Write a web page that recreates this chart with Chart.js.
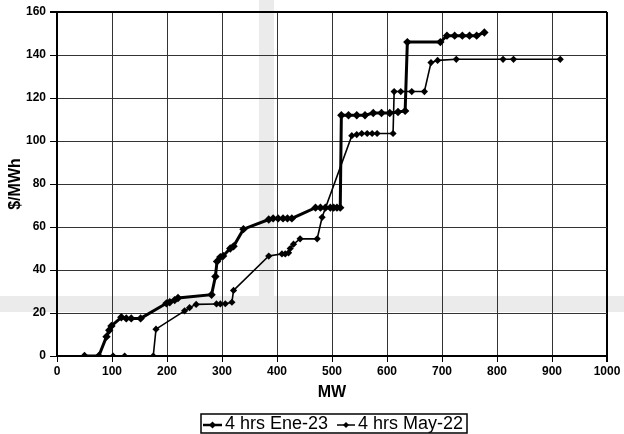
<!DOCTYPE html>
<html><head><meta charset="utf-8">
<script src="https://cdn.jsdelivr.net/npm/chart.js@4"></script>
<style>html,body{margin:0;padding:0;background:#fff;}</style>
</head><body>
<canvas id="c" width="624" height="434"></canvas>
<script>
const ene23X = [50, 76, 90, 95, 99, 117, 126, 135, 152, 199, 205, 214, 220, 281, 288, 291, 297, 302, 315, 321, 339, 385, 393, 402, 411, 419, 427, 470, 479, 488, 497, 503, 509, 515, 517, 530, 545, 560, 575, 590, 605, 620, 633, 637, 697, 709, 723, 737, 750, 763, 777];
const ene23Y = [0, 0, 9, 12, 14, 18, 17.5, 17.5, 17.5, 24.5, 25, 26, 27, 28.5, 37, 44, 46, 46.5, 50, 51, 59, 63.5, 64, 64, 64, 64, 64, 69, 69, 69, 69, 69, 69, 69, 112, 112, 112, 112, 113, 113, 113, 113.5, 114, 146, 146, 149, 149, 149, 149, 149, 150.5];
const may22X = [102, 123, 175, 180, 232, 241, 253, 290, 297, 306, 318, 321, 385, 409, 415, 421, 424, 430, 442, 473, 482, 536, 545, 554, 564, 573, 582, 611, 613, 625, 645, 668, 680, 692, 726, 811, 830, 915];
const may22Y = [0, 0, 0, 12.5, 21, 22.5, 24, 24.2, 24.2, 24.3, 25, 30.5, 46.5, 47.5, 47.5, 48, 50, 52, 54.5, 54.5, 64.5, 102.5, 103, 103.5, 103.5, 103.5, 103.5, 103.5, 123, 123, 123, 123, 136.5, 137.5, 138, 138, 138, 138];
const seriesNames = ['4 hrs Ene-23', '4 hrs May-22'];
const xTicks = [0, 100, 200, 300, 400, 500, 600, 700, 800, 900, 1000];
const yTicks = [0, 20, 40, 60, 80, 100, 120, 140, 160];

const FONT = "'Liberation Sans', Arial, sans-serif";
const pts = (xs, ys) => xs.map((x, i) => ({x, y: ys[i]}));

const watermarkPlugin = {
  id: 'watermark',
  beforeDraw(chart) {
    const ctx = chart.ctx;
    ctx.save();
    ctx.fillStyle = '#ebebeb';
    ctx.fillRect(0, 296, 624, 16);
    ctx.fillRect(259, 0, 15, 296);
    ctx.restore();
  }
};

const legendPlugin = {
  id: 'boxLegend',
  afterDraw(chart) {
    const ctx = chart.ctx;
    ctx.save();
    ctx.strokeStyle = '#000';
    ctx.lineWidth = 1.5;
    ctx.strokeRect(201, 414, 266, 19);
    const items = [
      {x0: 203, x1: 222, lw: 2.5, r: 3.5, tx: 225},
      {x0: 337, x1: 355, lw: 1.5, r: 3, tx: 358}
    ];
    ctx.font = "18px " + FONT;
    ctx.fillStyle = '#000';
    ctx.textBaseline = 'alphabetic';
    items.forEach((it, i) => {
      ctx.lineWidth = it.lw;
      ctx.beginPath(); ctx.moveTo(it.x0, 425); ctx.lineTo(it.x1, 425); ctx.stroke();
      const cx = (it.x0 + it.x1) / 2;
      ctx.beginPath();
      ctx.moveTo(cx, 425 - it.r); ctx.lineTo(cx + it.r, 425); ctx.lineTo(cx, 425 + it.r); ctx.lineTo(cx - it.r, 425); ctx.closePath();
      ctx.fill();
      ctx.fillText(seriesNames[i], it.tx, 429);
    });
    ctx.restore();
  }
};

new Chart(document.getElementById('c'), {
  type: 'scatter',
  data: {
    datasets: [
      {label: seriesNames[0], data: pts(ene23X, ene23Y), showLine: true, borderColor: '#000', backgroundColor: '#000',
       borderWidth: 3, pointStyle: 'rectRot', pointRadius: 4.2, pointBorderWidth: 0, tension: 0},
      {label: seriesNames[1], data: pts(may22X, may22Y), showLine: true, borderColor: '#000', backgroundColor: '#000',
       borderWidth: 1.6, pointStyle: 'rectRot', pointRadius: 3.6, pointBorderWidth: 0, tension: 0}
    ]
  },
  options: {
    responsive: false, animation: false, devicePixelRatio: 1,
    layout: {padding: {top: 12, right: 17, left: 0, bottom: 0}},
    plugins: {legend: {display: false}, tooltip: {enabled: false}},
    scales: {
      x: {
        type: 'linear', min: 0, max: 1000,
        afterFit(s) { s.height = 78; },
        afterBuildTicks(s) { s.ticks = xTicks.map(v => ({value: v})); },
        ticks: {color: '#000', font: {family: FONT, size: 12, weight: 'bold'}, padding: 2, maxRotation: 0,
                callback: v => String(v)},
        grid: {color: c => (c.tick && c.tick.value === 1000) ? '#000' : '#333',
               lineWidth: c => (c.tick && c.tick.value === 1000) ? 2 : 1,
               tickLength: 6, tickColor: '#000'},
        border: {color: '#000', width: 2},
        title: {display: true, text: 'MW', color: '#000', font: {family: FONT, size: 16, weight: 'bold'}, padding: {top: 0, bottom: 32}}
      },
      y: {
        type: 'linear', min: 0, max: 160,
        afterFit(s) { s.width = 57; },
        afterBuildTicks(s) { s.ticks = yTicks.map(v => ({value: v})); },
        ticks: {color: '#000', font: {family: FONT, size: 12, weight: 'bold'}, padding: 4, callback: v => String(v)},
        grid: {color: c => (c.tick && c.tick.value === 160) ? '#000' : '#333',
               lineWidth: c => (c.tick && c.tick.value === 160) ? 2 : 1,
               tickLength: 7, tickColor: '#000'},
        border: {color: '#000', width: 2},
        title: {display: true, text: '$/MWh', color: '#000', font: {family: FONT, size: 16, weight: 'bold'}, padding: {top: 6, bottom: 0}}
      }
    }
  },
  plugins: [watermarkPlugin, legendPlugin]
});
</script>
</body></html>
